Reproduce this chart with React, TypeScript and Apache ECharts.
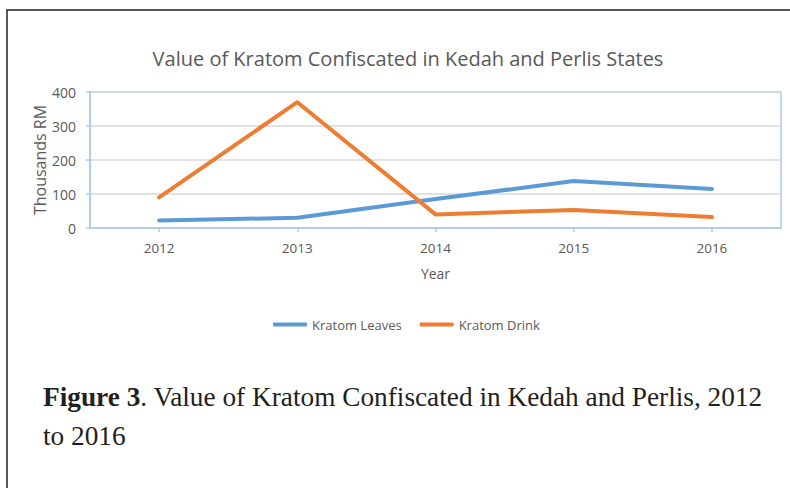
import React, { useEffect, useRef } from "react";
import * as echarts from "echarts";

const years = ["2012", "2013", "2014", "2015", "2016"];
const kratomLeaves = [22, 30, 85, 138, 115];
const kratomDrink = [90, 370, 40, 53, 32];
const seriesNames = ["Kratom Leaves", "Kratom Drink"];
const chartTitle = "Value of Kratom Confiscated in Kedah and Perlis States";
const captionBold = "Figure 3";
const captionRest = ". Value of Kratom Confiscated in Kedah and Perlis, 2012";
const captionLine2 = "to 2016";

const FONT = "'Open Sans', 'Noto Sans', sans-serif";
const AXIS_BLUE = "#a9cbeb";

export default function App() {
  const ref = useRef<HTMLDivElement>(null);
  useEffect(() => {
    if (!ref.current) return;
    const chart = echarts.init(ref.current, null, { renderer: "svg" });
    chart.setOption({
      animation: false,
      backgroundColor: "#ffffff",
      title: {
        text: chartTitle,
        left: 403,
        top: 43,
        textAlign: "center",
        textStyle: { fontFamily: FONT, fontSize: 20, fontWeight: "normal", color: "#595959" },
      },
      grid: {
        left: 90,
        top: 92,
        right: 9,
        bottom: 260,
        show: true,
        borderColor: AXIS_BLUE,
        borderWidth: 1.5,
        containLabel: false,
      },
      legend: {
        data: seriesNames,
        left: 273,
        top: 318,
        padding: 0,
        icon: "roundRect",
        itemWidth: 34,
        itemHeight: 4,
        itemGap: 18,
        textStyle: { fontFamily: FONT, fontSize: 13, color: "#595959" },
      },
      xAxis: {
        type: "category",
        data: years,
        boundaryGap: true,
        name: "Year",
        nameLocation: "middle",
        nameGap: 38,
        nameMoveOverlap: false,
        nameTextStyle: { fontFamily: FONT, fontSize: 14, color: "#595959" },
        axisLine: { show: true, lineStyle: { color: AXIS_BLUE, width: 1.5 } },
        axisTick: { show: true, alignWithLabel: true, length: 4, lineStyle: { color: AXIS_BLUE, width: 1.5 } },
        axisLabel: { fontFamily: FONT, fontSize: 13.5, color: "#595959", margin: 13 },
        splitLine: { show: false },
      },
      yAxis: {
        type: "value",
        min: 0,
        max: 400,
        interval: 100,
        name: "Thousands RM",
        nameLocation: "middle",
        nameRotate: 90,
        nameGap: 42,
        nameMoveOverlap: false,
        nameTextStyle: { fontFamily: FONT, fontSize: 16, color: "#595959" },
        axisLine: { show: true, lineStyle: { color: AXIS_BLUE, width: 1.5 } },
        axisTick: { show: true, length: 4, lineStyle: { color: AXIS_BLUE, width: 1.5 } },
        axisLabel: { fontFamily: FONT, fontSize: 14, color: "#595959", margin: 14 },
        splitLine: { show: true, lineStyle: { color: "#d9d9d9", width: 1.5 } },
      },
      series: [
        {
          name: seriesNames[0],
          type: "line",
          data: kratomLeaves,
          showSymbol: false,
          symbol: "none",
          color: "#5b9bd5",
          lineStyle: { width: 4, color: "#5b9bd5", cap: "round", join: "round" },
        },
        {
          name: seriesNames[1],
          type: "line",
          data: kratomDrink,
          showSymbol: false,
          symbol: "none",
          color: "#ed7d31",
          lineStyle: { width: 4, color: "#ed7d31", cap: "round", join: "round" },
        },
      ],
      graphic: [
        {
          type: "rect",
          shape: { x: 7, y: 10, width: 820, height: 520 },
          style: { fill: "none", stroke: "#222222", lineWidth: 1.5 },
          silent: true,
        },
        {
          type: "text",
          x: 43,
          y: 377,
          style: {
            text: "{b|" + captionBold + "}" + captionRest + "\n" + captionLine2,
            fontFamily: "'Liberation Serif', 'Times New Roman', serif",
            fontSize: 27.3,
            lineHeight: 39,
            fill: "#231f20",
            rich: {
              b: {
                fontFamily: "'Liberation Serif', 'Times New Roman', serif",
                fontSize: 27.3,
                fontWeight: "bold",
                lineHeight: 39,
                fill: "#231f20",
              },
            },
          },
        },
      ],
    });
    return () => chart.dispose();
  }, []);
  return (
    <div
      ref={ref}
      style={{ position: "fixed", left: 0, top: 0, width: 790, height: 488 }}
    />
  );
}
